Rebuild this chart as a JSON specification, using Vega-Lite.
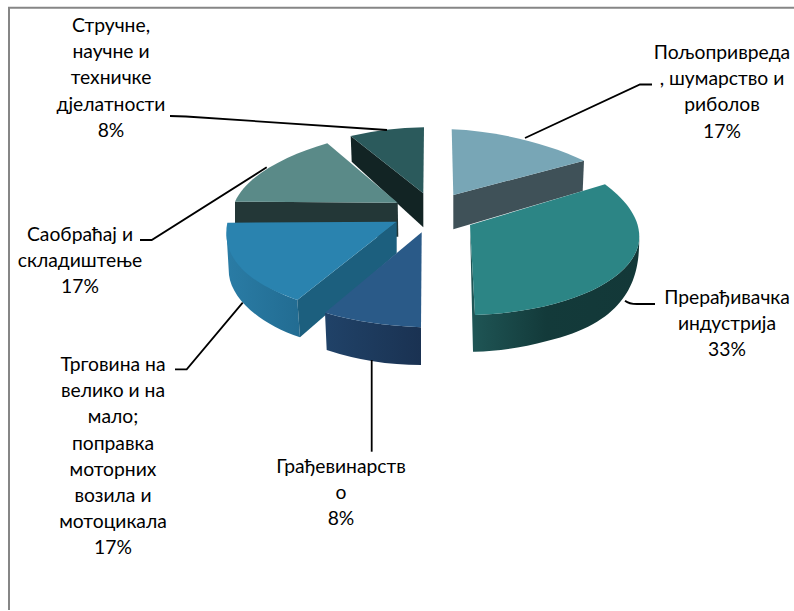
{
"$schema":"https://vega.github.io/schema/vega-lite/v6.json",
"width":794,"height":610,"padding":0,"autosize":{"type":"none"},
"background":"white",
"view":{"stroke":null},
"data":{"values":[
{"order":1,"sector":"Пољопривреда, шумарство и риболов","share":17,"label":"Пољопривреда\n, шумарство и\nриболов\n17%"},
{"order":2,"sector":"Прерађивачка индустрија","share":33,"label":"Прерађивачка\nиндустрија\n33%"},
{"order":3,"sector":"Грађевинарство","share":8,"label":"Грађевинарств\nо\n8%"},
{"order":4,"sector":"Трговина на велико и на мало; поправка моторних возила и мотоцикала","share":17,"label":"Трговина на\nвелико и на\nмало;\nпоправка\nмоторних\nвозила и\nмотоцикала\n17%"},
{"order":5,"sector":"Саобраћај и складиштење","share":17,"label":"Саобраћај и\nскладиштење\n17%"},
{"order":6,"sector":"Стручне, научне и техничке дјелатности","share":8,"label":"Стручне,\nнаучне  и\nтехничке\nдјелатности\n8%"}
]},
"layer":[
{"transform":[{"filter":"datum.order==1"}],"mark":{"type":"point","filled":false,"size":4,"opacity":1,"stroke":"#868686","strokeWidth":2,"fill":null,"shape":"M-388 306 L-388 -297.3 L397 -297.3"}},
{"transform":[{"filter":"datum.order==5"}],"mark":{"type":"point","filled":true,"size":4,"opacity":1,"fill":"#233737","strokeWidth":0,"shape":"M-162 -103.3 L0.7 -102.3 L1.3 -68.3 L-162 -68.3 Z"}},
{"transform":[{"filter":"datum.order==6"}],"mark":{"type":"point","filled":true,"size":4,"opacity":1,"fill":"#122424","strokeWidth":0,"shape":"M-46.3 -169 L26.3 -111.7 L26.3 -77.7 L-45.3 -143.3 Z"}},
{"transform":[{"filter":"datum.order==1"}],"mark":{"type":"point","filled":true,"size":4,"opacity":1,"fill":"#3F5158","strokeWidth":0,"shape":"M56.3 -110 L187 -144.3 L185.7 -114 L56.3 -75.7 Z"}},
{"transform":[{"filter":"datum.order==2"}],"mark":{"type":"point","filled":true,"size":4,"opacity":1,"strokeWidth":0,"fill":{"gradient":"linear","x1":0,"y1":0,"x2":1,"y2":0,"stops":[{"offset":0,"color":"#1F5656"},{"offset":0.45,"color":"#133A3A"},{"offset":1,"color":"#133838"}]},"shape":"M73 -80 L78 10 C180 6 242.3 -30 242.3 -68.3 C242 -40 242 15 150 36 C125 43 100 46 78 46.7 L76 46.7 Z"}},
{"transform":[{"filter":"datum.order==4"}],"mark":{"type":"point","filled":true,"size":4,"opacity":1,"strokeWidth":0,"fill":{"gradient":"linear","x1":0,"y1":0,"x2":1,"y2":0,"stops":[{"offset":0,"color":"#2A7CA5"},{"offset":1,"color":"#226C92"}]},"shape":"M-170.5 -72 C-165 -40 -135 -17 -99.7 -5 L-97 32.3 C-135 20 -165 -5 -168 -30 Z"}},
{"transform":[{"filter":"datum.order==4"}],"mark":{"type":"point","filled":true,"size":4,"opacity":1,"fill":"#1C5F7E","strokeWidth":0,"shape":"M-99.7 -5 L-0.3 -83.3 L-0.3 -51.7 L-97 32.3 Z"}},
{"transform":[{"filter":"datum.order==3"}],"mark":{"type":"point","filled":true,"size":4,"opacity":1,"strokeWidth":0,"fill":{"gradient":"linear","x1":0,"y1":0,"x2":1,"y2":0,"stops":[{"offset":0,"color":"#204268"},{"offset":1,"color":"#1A3252"}]},"shape":"M-72 7.7 Q-30 20 24 22.3 L24 60 Q-25 60 -70.3 45 Z"}},
{"mark":{"type":"point","filled":true,"size":4,"opacity":1,"strokeWidth":0},
 "encoding":{
  "shape":{"field":"sector","type":"nominal","legend":null,"scale":{"domain":["Пољопривреда, шумарство и риболов","Прерађивачка индустрија","Грађевинарство","Трговина на велико и на мало; поправка моторних возила и мотоцикала","Саобраћај и складиштење","Стручне, научне и техничке дјелатности"],"range":[
   "M56.3 -110 L54.7 -175.7 C100 -174 150 -162 187 -144.3 Z",
   "M73 -80 L208 -120.7 C225 -108 242.3 -90 242.3 -68.3 C242.3 -30 180 6 78 10 Z",
   "M24.7 -72.7 L-72 7.7 Q-30 20 24 22.3 Z",
   "M-169.7 -82.3 L-0.3 -83.3 L-99.7 -5 C-135 -17 -178 -40 -169.7 -82.3 Z",
   "M0.7 -102.3 L-69.7 -161.7 C-110 -150 -150 -130 -162 -103.3 Z",
   "M26.3 -111.7 L-46.3 -169 Q-12 -177 27 -177.7 Z"]}},
  "color":{"field":"sector","type":"nominal","legend":null,"scale":{"domain":["Пољопривреда, шумарство и риболов","Прерађивачка индустрија","Грађевинарство","Трговина на велико и на мало; поправка моторних возила и мотоцикала","Саобраћај и складиштење","Стручне, научне и техничке дјелатности"],"range":["#78A6B6","#2C8585","#2A5A88","#2A83AF","#5A8A88","#2B5A5C"]}}
 }},
{"mark":{"type":"point","filled":false,"fill":null,"size":4,"opacity":1,"stroke":"#000000","strokeWidth":1.8},
 "encoding":{
  "shape":{"field":"order","type":"nominal","legend":null,"scale":{"domain":[1,2,3,4,5,6],"range":[
   "M128 -167 L243 -220.5 L255 -220.5",
   "M228 -4.3 Q232 -1 240 -1 L258 -1",
   "M-25.3 55 L-25.3 146.7",
   "M-154.3 -2.3 L-210.3 64.3 L-222 64.3",
   "M-257 -65 L-245.3 -65 L-130.3 -137.7",
   "M-227 -189 L-211 -188.5 L-10 -175"]}}
 }},
{"mark":{"type":"text","font":"Lato","fontSize":19.3,"lineBreak":"\n","lineHeight":26.2,"align":"center","baseline":"middle","color":"#000000"},
 "encoding":{
  "text":{"field":"label","type":"nominal"},
  "x":{"field":"order","type":"quantitative","axis":null,"scale":{"domain":[1,2,3,4,5,6],"range":[722,727,341,113,80,111],"zero":false,"nice":false}},
  "y":{"field":"order","type":"quantitative","axis":null,"scale":{"domain":[1,2,3,4,5,6],"range":[53,298,467,365,235,26],"zero":false,"nice":false}}
 }}
],
"resolve":{"scale":{"shape":"independent","color":"independent"}}
}
